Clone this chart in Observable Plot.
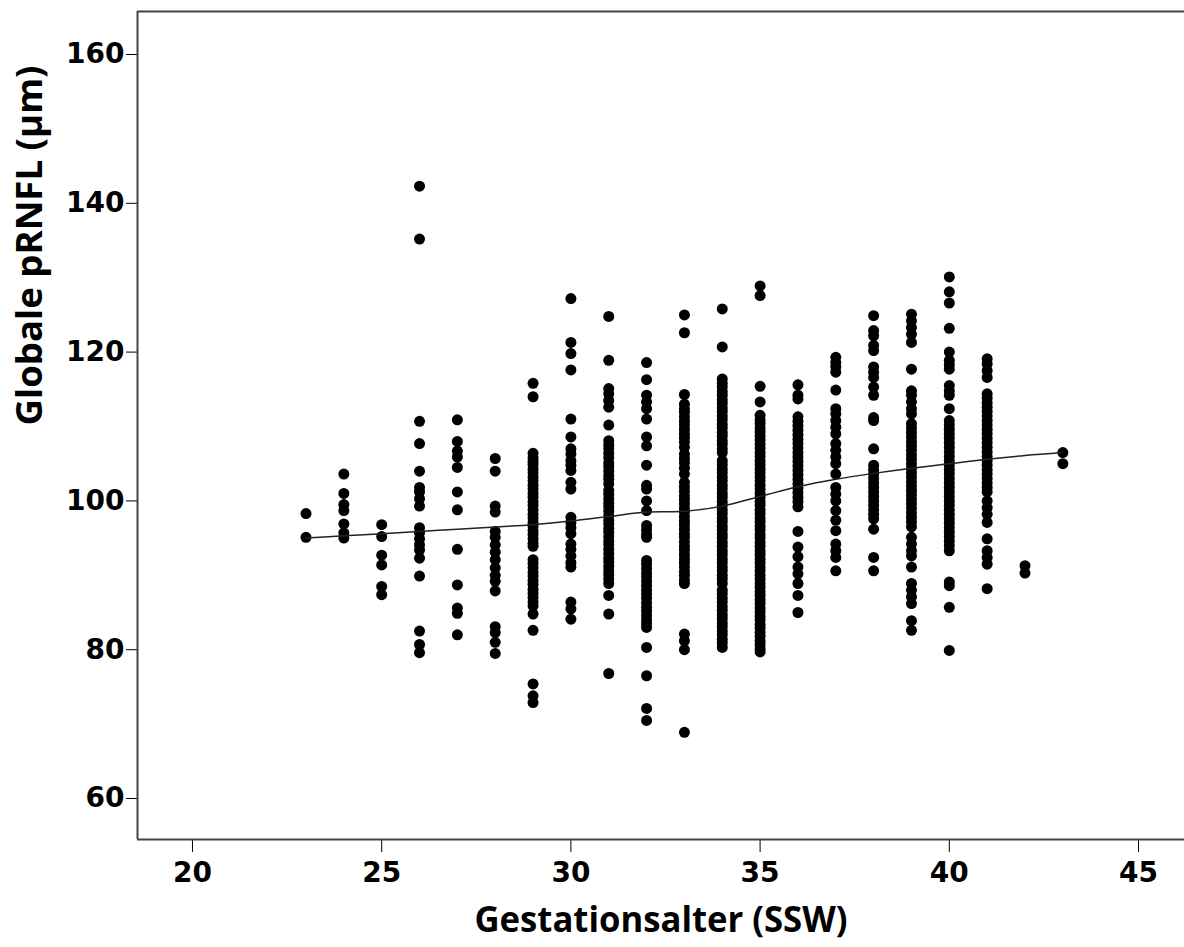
<!DOCTYPE html>
<html>
<head>
<meta charset="utf-8">
<script src="https://cdn.jsdelivr.net/npm/d3@7"></script>
<script src="https://cdn.jsdelivr.net/npm/@observablehq/plot@0.6"></script>
<style>
  html, body { margin: 0; padding: 0; background: #fff; overflow: hidden; }
  #chart svg { display: block; }
</style>
</head>
<body>
<div id="chart"></div>
<script>
// Gestational age (weeks) of each column
const ga = [23,24,25,26,27,28,29,30,31,32,33,34,35,36,37,38,39,40,41,42,43];
// Global pRNFL values (µm) per gestational-age column
const pRNFL = [
  [98.3, 95.1],
  [103.6, 101.0, 99.5, 98.7, 96.9, 95.7, 95.0],
  [96.8, 95.2, 92.7, 91.4, 88.5, 87.4],
  [142.3, 135.2, 110.7, 107.7, 104.0, 101.8, 101.2, 100.3, 99.3, 96.4, 95.7, 94.9, 94.1, 93.4, 92.3, 89.9, 82.5, 80.7, 79.6],
  [110.9, 108.0, 106.7, 105.9, 104.5, 101.2, 98.8, 93.5, 88.7, 85.6, 84.9, 82.0],
  [105.7, 104.0, 99.3, 98.5, 95.9, 95.1, 94.1, 93.1, 92.1, 91.0, 90.0, 89.2, 87.9, 83.1, 82.3, 81.0, 79.5],
  [115.8, 114.0, 106.4, 105.8, 105.3, 104.9, 104.3, 103.8, 103.2, 102.7, 102.1, 101.6, 101.0, 100.5, 99.9, 99.4, 98.8, 98.2, 97.7, 97.1, 96.6, 96.0, 95.5, 94.9, 94.3, 93.9, 92.1, 91.6, 91.0, 90.4, 89.9, 89.3, 88.8, 88.1, 87.6, 87.0, 86.4, 85.9, 84.8, 82.6, 75.4, 73.8, 72.9],
  [127.2, 121.3, 119.8, 117.6, 111.0, 108.6, 107.0, 106.3, 105.4, 104.8, 104.1, 102.5, 101.6, 97.8, 97.1, 96.4, 95.6, 94.2, 93.5, 92.6, 91.7, 91.1, 86.4, 85.5, 84.1],
  [124.8, 118.9, 115.1, 114.4, 113.5, 112.6, 110.2, 108.1, 107.5, 107.0, 106.4, 105.8, 105.1, 104.6, 104.0, 103.4, 102.9, 102.3, 101.4, 100.9, 100.3, 99.7, 99.2, 98.6, 98.0, 97.4, 96.9, 96.3, 95.8, 95.2, 94.6, 94.1, 93.5, 92.9, 92.3, 91.8, 91.2, 90.6, 90.1, 89.5, 88.9, 87.3, 84.8, 76.8],
  [118.6, 116.3, 114.2, 113.3, 112.4, 111.0, 108.6, 107.4, 104.8, 102.1, 101.6, 100.0, 98.7, 96.7, 96.1, 95.5, 95.1, 92.0, 91.5, 90.9, 90.3, 89.8, 89.2, 88.6, 88.0, 87.5, 86.9, 86.3, 85.7, 85.2, 84.6, 84.0, 83.5, 83.0, 80.3, 76.5, 72.1, 70.5],
  [125.0, 122.6, 114.3, 113.0, 112.4, 111.9, 111.3, 110.7, 110.2, 109.6, 109.0, 108.5, 107.9, 107.2, 106.3, 105.7, 105.1, 104.4, 103.6, 102.5, 101.9, 101.3, 100.7, 100.2, 99.6, 99.0, 98.5, 97.9, 97.3, 96.8, 96.2, 95.6, 95.1, 94.5, 93.9, 93.4, 92.8, 92.2, 91.7, 91.1, 90.5, 90.0, 89.4, 88.9, 82.1, 81.2, 80.0, 68.9],
  [125.8, 120.7, 116.4, 115.8, 115.3, 114.7, 114.2, 113.6, 113.1, 112.5, 112.0, 111.4, 110.9, 110.3, 109.8, 109.2, 108.7, 108.1, 107.6, 107.0, 106.5, 105.4, 104.9, 104.3, 103.8, 103.2, 102.7, 102.1, 101.6, 101.0, 100.5, 99.9, 99.4, 98.8, 98.3, 97.7, 97.2, 96.6, 96.1, 95.5, 95.0, 94.4, 93.9, 93.3, 92.8, 92.2, 91.7, 91.1, 90.6, 90.0, 89.5, 88.9, 88.0, 87.5, 86.9, 86.4, 85.8, 85.3, 84.7, 84.2, 83.6, 83.1, 82.5, 82.0, 81.4, 80.9, 80.3],
  [128.9, 127.6, 115.4, 113.3, 111.5, 110.9, 110.4, 109.8, 109.3, 108.7, 108.2, 107.6, 107.1, 106.5, 106.0, 105.4, 104.9, 104.3, 103.8, 103.2, 102.7, 102.1, 101.6, 101.0, 100.5, 99.9, 99.4, 98.8, 98.3, 97.7, 97.2, 96.6, 96.1, 95.5, 95.0, 94.4, 93.9, 93.3, 92.8, 92.2, 91.7, 91.1, 90.6, 90.0, 89.5, 88.9, 88.4, 87.8, 87.3, 86.7, 86.2, 85.6, 85.1, 84.5, 84.0, 83.4, 82.9, 82.3, 81.8, 81.2, 80.7, 80.1, 79.7],
  [115.6, 114.2, 113.7, 111.3, 110.7, 110.1, 109.5, 108.9, 108.3, 107.7, 107.1, 106.5, 105.9, 105.3, 104.7, 104.1, 103.5, 102.9, 102.3, 101.7, 101.1, 100.5, 99.9, 99.2, 95.9, 93.8, 92.5, 91.1, 90.2, 88.9, 87.3, 85.0],
  [119.3, 118.6, 118.0, 117.3, 114.9, 112.4, 111.7, 110.8, 109.9, 109.0, 107.7, 106.8, 105.9, 105.0, 103.6, 101.8, 100.9, 100.0, 98.7, 97.4, 96.0, 94.2, 93.3, 92.4, 90.6],
  [124.9, 122.9, 122.2, 120.9, 120.2, 118.0, 117.3, 116.6, 115.3, 114.2, 111.2, 110.8, 107.0, 104.8, 104.2, 103.6, 103.0, 102.4, 101.8, 101.2, 100.6, 100.0, 99.4, 98.8, 98.2, 97.6, 96.2, 92.4, 90.6],
  [125.1, 124.2, 123.3, 122.4, 121.3, 117.7, 114.8, 114.2, 113.3, 112.4, 111.7, 110.4, 109.8, 109.2, 108.6, 108.0, 107.4, 106.8, 106.2, 105.6, 105.0, 104.4, 103.8, 103.2, 102.6, 102.0, 101.4, 100.8, 100.2, 99.6, 99.0, 98.4, 97.8, 97.2, 96.5, 95.1, 94.2, 93.3, 92.6, 91.1, 88.9, 88.0, 87.1, 86.2, 83.9, 82.6],
  [130.1, 128.1, 126.6, 123.2, 120.0, 118.9, 118.3, 117.7, 115.5, 114.8, 114.2, 112.4, 110.8, 110.2, 109.6, 109.0, 108.4, 107.8, 107.2, 106.6, 106.0, 105.4, 104.8, 104.2, 103.6, 103.0, 102.4, 101.8, 101.2, 100.6, 100.0, 99.4, 98.8, 98.2, 97.6, 97.0, 96.4, 95.8, 95.2, 94.6, 94.0, 93.3, 89.1, 88.6, 85.7, 79.9],
  [119.1, 118.4, 117.5, 116.6, 114.4, 113.8, 113.2, 112.6, 112.0, 111.4, 110.8, 110.2, 109.6, 109.0, 108.4, 107.8, 107.2, 106.6, 106.0, 105.4, 104.8, 104.2, 103.6, 103.0, 102.4, 101.8, 101.2, 100.0, 99.1, 98.2, 97.1, 94.9, 93.3, 92.4, 91.5, 88.2],
  [91.3, 90.3],
  [106.5, 105.0]
];
// Smoothed fit line
const fitGA = [23,24,25,26,27,28,29,30,31,32,33,34,35,36,37,38,39,40,41,42,43];
const fitValue = [95.0, 95.3, 95.6, 95.9, 96.2, 96.5, 96.8, 97.3, 97.9, 98.5, 98.6, 99.3, 100.6, 101.9, 102.9, 103.7, 104.4, 105.0, 105.6, 106.1, 106.5];
// Axis tick labels
const xTicks = [20, 25, 30, 35, 40, 45];
const yTicks = [60, 80, 100, 120, 140, 160];
const xDomain = [18.547, 46.215];
const yDomain = [54.49, 165.78];
const xTitle = "Gestationsalter (SSW)";
const yTitle = "Globale pRNFL (µm)";

const points = ga.flatMap((g, i) => pRNFL[i].map(v => ({ga: g, value: v})));
const fit = fitGA.map((g, i) => ({ga: g, value: fitValue[i]}));

const chart = Plot.plot({
  width: 1184,
  height: 947,
  marginLeft: 137,
  marginRight: 0,
  marginTop: 11,
  marginBottom: 108,
  style: {fontFamily: "DejaVu Sans", fontSize: "28px", fontWeight: "bold", color: "#000", background: "#fff"},
  x: {domain: xDomain, ticks: xTicks, tickSize: 13, tickPadding: 10, label: null, tickFormat: d => String(d)},
  y: {domain: yDomain, ticks: yTicks, tickSize: 11, tickPadding: 2, label: null, tickFormat: d => String(d)},
  marks: [
    Plot.ruleX([xDomain[0]], {stroke: "#444", strokeWidth: 2}),
    Plot.ruleY([yDomain[1]], {stroke: "#444", strokeWidth: 2}),
    Plot.ruleY([yDomain[0]], {stroke: "#444", strokeWidth: 2}),
    Plot.dot(points, {x: "ga", y: "value", r: 5.5, fill: "#000", stroke: "none"}),
    Plot.line(fit, {x: "ga", y: "value", stroke: "#222", strokeWidth: 1.5, curve: "catmull-rom"}),
    Plot.text([xTitle], {frameAnchor: "bottom", dy: 92, fontFamily: "Open Sans", fontSize: 36, fontWeight: "bold", fill: "#000"}),
    Plot.text([yTitle], {frameAnchor: "left", dx: -107.5, rotate: -90, fontFamily: "Open Sans", fontSize: 36, fontWeight: "bold", fill: "#000"})
  ]
});

document.getElementById("chart").appendChild(chart);

const svg = d3.select(chart.tagName === "svg" ? chart : chart.querySelector("svg"));
svg.selectAll("text").each(function() {
  const t = this.textContent;
  if (t === xTitle) d3.select(this).attr("textLength", 373).attr("lengthAdjust", "spacingAndGlyphs");
  if (t === yTitle) d3.select(this).attr("textLength", 360).attr("lengthAdjust", "spacingAndGlyphs");
});
</script>
</body>
</html>
